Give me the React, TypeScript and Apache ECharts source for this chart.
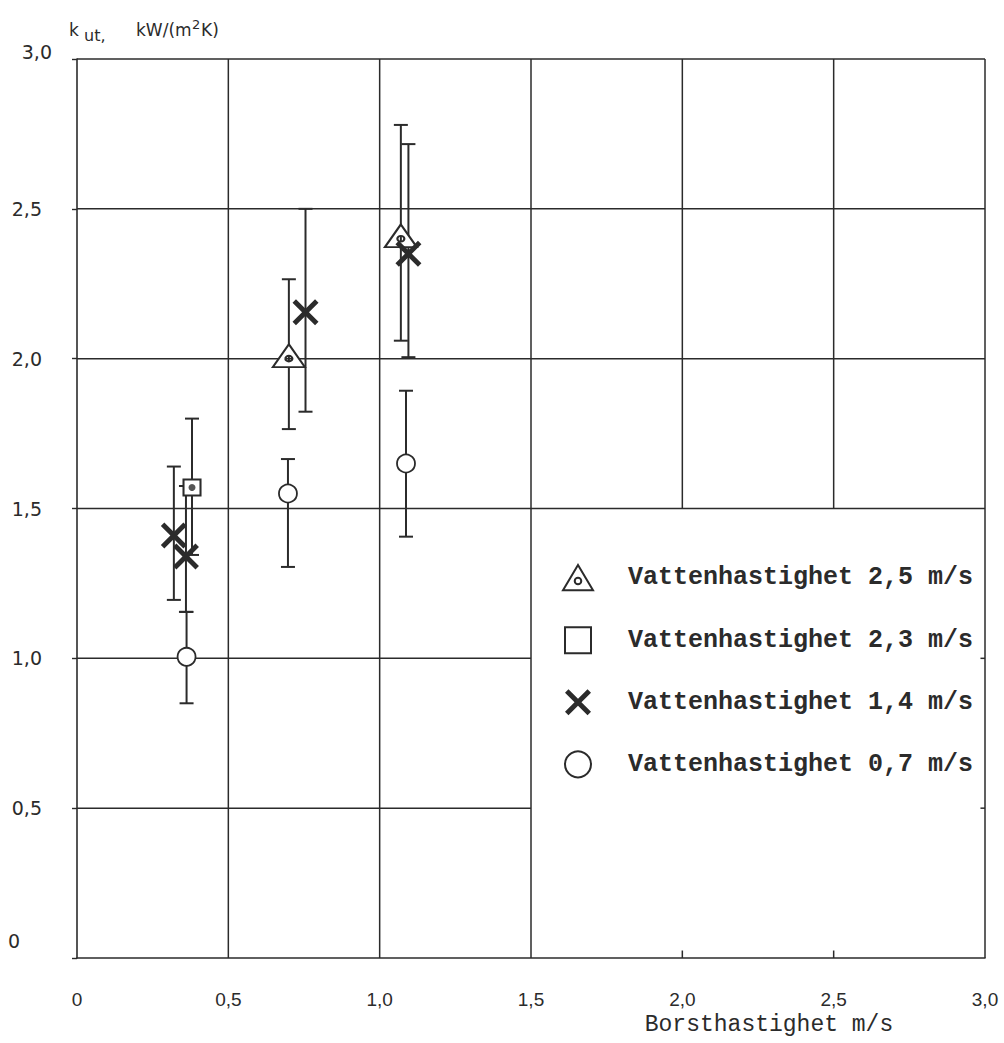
import React, { useEffect, useRef } from "react";
import * as echarts from "echarts";

// ---- data ----
const triX = [0.70, 1.07];
const triY = [2.01, 2.41];
const triLow = [1.765, 2.06];
const triHigh = [2.265, 2.78];

const sqX = [0.38];
const sqY = [1.57];
const sqLow = [1.345];
const sqHigh = [1.80];

const crX = [0.32, 0.36, 0.755, 1.095];
const crY = [1.41, 1.34, 2.155, 2.35];
const crLow = [1.195, 1.155, 1.823, 2.005];
const crHigh = [1.64, 1.575, 2.50, 2.716];

const ciX = [0.362, 0.697, 1.087];
const ciY = [1.005, 1.55, 1.65];
const ciLow = [0.85, 1.305, 1.406];
const ciHigh = [1.155, 1.665, 1.893];

const seriesNames = [
  "Vattenhastighet 2,5 m/s",
  "Vattenhastighet 2,3 m/s",
  "Vattenhastighet 1,4 m/s",
  "Vattenhastighet 0,7 m/s",
];

// grid segments [x1, y1, x2, y2] in data units
const gridSegs = [
  [0, 3, 3, 3],
  [3, 0, 3, 3],
  [0.5, 0, 0.5, 3],
  [1.0, 0, 1.0, 3],
  [1.5, 0, 1.5, 3],
  [2.0, 1.5, 2.0, 3],
  [2.5, 1.5, 2.5, 3],
  [0, 2.5, 3, 2.5],
  [0, 2.0, 3, 2.0],
  [0, 1.5, 3, 1.5],
  [0, 1.0, 1.5, 1.0],
  [0, 0.5, 1.5, 0.5],
  [2.0, 0, 2.0, 0.025],
  [2.5, 0, 2.5, 0.025],
  [2.985, 1.0, 3, 1.0],
  [2.985, 0.5, 3, 0.5],
];

const INK = "#2b2b2b";

const TRI_PATH =
  "path://M16,0 L32,27 L0,27 Z M12.5,17 a3.5,3.5 0 1,0 7,0 a3.5,3.5 0 1,0 -7,0";
const SQ_PATH = "path://M0,0 L20,0 L20,20 L0,20 Z";
const X_PATH =
  "path://M0,3.2 L3.2,0 L12,8.8 L20.8,0 L24,3.2 L15.2,12 L24,20.8 L20.8,24 L12,15.2 L3.2,24 L0,20.8 L8.8,12 Z";

function fmt(v: number) {
  return v === 0 ? "0" : v.toFixed(1).replace(".", ",");
}

export default function App() {
  const ref = useRef<HTMLDivElement>(null);
  useEffect(() => {
    if (!ref.current) return;
    const chart = echarts.init(ref.current, null, { renderer: "svg" });

    const errRows: number[][] = [];
    const pushErr = (xs: number[], lo: number[], hi: number[]) =>
      xs.forEach((x, i) => errRows.push([x, lo[i], hi[i]]));
    pushErr(triX, triLow, triHigh);
    pushErr(sqX, sqLow, sqHigh);
    pushErr(crX, crLow, crHigh);
    pushErr(ciX, ciLow, ciHigh);

    const pts = (xs: number[], ys: number[]) => xs.map((x, i) => [x, ys[i]]);
    const yl = { fontFamily: "DejaVu Sans", fontSize: 19, color: INK };

    chart.setOption({
      animation: false,
      backgroundColor: "#ffffff",
      grid: { left: 77, right: 19, top: 59, bottom: 85, containLabel: false },
      xAxis: {
        type: "value",
        min: 0,
        max: 3,
        interval: 0.5,
        axisLine: { show: true, lineStyle: { color: INK, width: 1.6 } },
        axisTick: { show: false },
        splitLine: { show: false },
        axisLabel: {
          margin: 32,
          fontFamily: "Liberation Sans",
          fontSize: 19,
          color: INK,
          formatter: (v: number) => fmt(v),
        },
        name: "Borsthastighet m/s",
        nameLocation: "middle",
        nameGap: 55,
        nameTextStyle: {
          fontFamily: "Liberation Mono",
          fontSize: 23,
          color: INK,
          padding: [0, 0, 0, 476],
        },
      },
      yAxis: {
        type: "value",
        min: 0,
        max: 3,
        interval: 0.5,
        axisLine: { show: true, lineStyle: { color: INK, width: 1.6 } },
        axisTick: { show: true, length: 5, lineStyle: { color: INK, width: 1.4 } },
        splitLine: { show: false },
        axisLabel: {
          margin: 25,
          formatter: (v: number) =>
            v === 3 ? "{t|3,0}" : v === 0 ? "{z|0}" : "{n|" + fmt(v) + "}",
          rich: {
            n: { ...yl, padding: [0, 10, 0, 0] },
            t: { ...yl, padding: [0, 0, 14, 0] },
            z: { ...yl, padding: [0, 32, 34, 0] },
          },
        },
      },
      legend: {
        orient: "vertical",
        left: 557,
        top: 559,
        itemWidth: 30,
        itemHeight: 26,
        itemGap: 35,
        data: seriesNames,
        textStyle: {
          fontFamily: "Liberation Mono",
          fontWeight: "bold",
          fontSize: 25,
          color: INK,
          padding: [0, 0, 0, 30],
        },
      },
      graphic: [
        { type: "text", left: 69, top: 21, style: { text: "k", fontFamily: "DejaVu Sans", fontSize: 17, fill: INK } },
        { type: "text", left: 84, top: 27, style: { text: "ut,", fontFamily: "DejaVu Sans", fontSize: 16, fill: INK } },
        { type: "text", left: 136, top: 21, style: { text: "kW/(m", fontFamily: "DejaVu Sans", fontSize: 17, fill: INK } },
        { type: "text", left: 192, top: 18, style: { text: "2", fontFamily: "DejaVu Sans", fontSize: 13, fill: INK } },
        { type: "text", left: 201, top: 21, style: { text: "K)", fontFamily: "DejaVu Sans", fontSize: 17, fill: INK } },
      ],
      series: [
        {
          type: "custom",
          name: "grid",
          silent: true,
          z: 1,
          data: gridSegs,
          renderItem: (params: any, api: any) => {
            const a = api.coord([api.value(0), api.value(1)]);
            const b = api.coord([api.value(2), api.value(3)]);
            return {
              type: "line",
              shape: { x1: a[0], y1: a[1], x2: b[0], y2: b[1] },
              style: { stroke: INK, lineWidth: 1.5 },
            };
          },
        },
        {
          type: "custom",
          name: "errors",
          silent: true,
          z: 2,
          data: errRows,
          renderItem: (params: any, api: any) => {
            const lo = api.coord([api.value(0), api.value(1)]);
            const hi = api.coord([api.value(0), api.value(2)]);
            const w = 7;
            const st = { stroke: INK, lineWidth: 2 };
            return {
              type: "group",
              children: [
                { type: "line", shape: { x1: lo[0], y1: lo[1], x2: hi[0], y2: hi[1] }, style: st },
                { type: "line", shape: { x1: lo[0] - w, y1: lo[1], x2: lo[0] + w, y2: lo[1] }, style: st },
                { type: "line", shape: { x1: hi[0] - w, y1: hi[1], x2: hi[0] + w, y2: hi[1] }, style: st },
              ],
            };
          },
        },
        {
          type: "scatter",
          name: seriesNames[0],
          z: 5,
          symbol: TRI_PATH,
          symbolKeepAspect: true,
          symbolSize: [32, 27],
          itemStyle: { color: "#ffffff", borderColor: INK, borderWidth: 2, opacity: 1 },
          data: pts(triX, triY),
        },
        {
          type: "scatter",
          name: seriesNames[1],
          z: 5,
          symbol: SQ_PATH,
          symbolKeepAspect: true,
          symbolSize: [17, 16],
          itemStyle: { color: "#ffffff", borderColor: INK, borderWidth: 2, opacity: 1 },
          data: pts(sqX, sqY),
        },
        {
          type: "scatter",
          name: "sqdot",
          z: 6,
          symbol: "circle",
          symbolSize: 7,
          itemStyle: { color: INK },
          data: pts(sqX, sqY),
        },
        {
          type: "scatter",
          name: seriesNames[2],
          z: 5,
          symbol: X_PATH,
          symbolKeepAspect: true,
          symbolSize: 26,
          itemStyle: { color: INK, opacity: 1 },
          data: pts(crX, crY),
        },
        {
          type: "scatter",
          name: seriesNames[3],
          z: 5,
          symbol: "circle",
          symbolSize: 18,
          itemStyle: { color: "#ffffff", borderColor: INK, borderWidth: 1.8, opacity: 1 },
          data: pts(ciX, ciY),
        },
      ],
    });
    return () => chart.dispose();
  }, []);
  return (
    <div
      ref={ref}
      style={{ position: "absolute", left: 0, top: 0, width: 1004, height: 1043 }}
    />
  );
}
